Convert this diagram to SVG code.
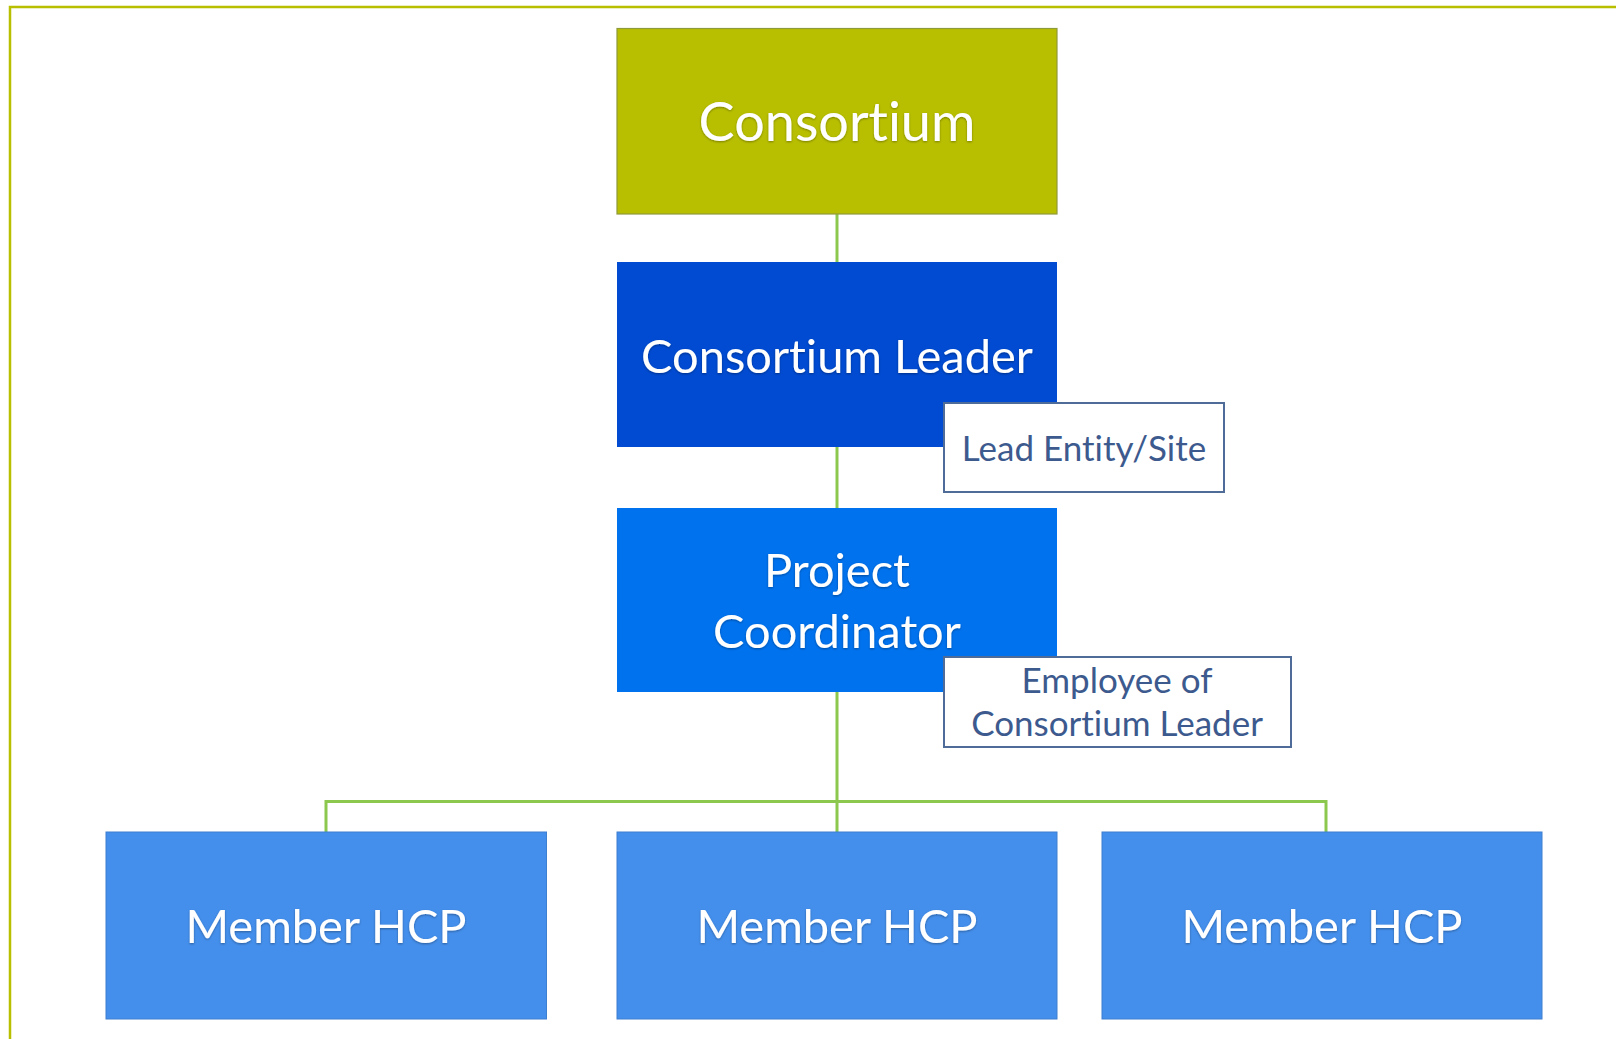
<svg xmlns="http://www.w3.org/2000/svg" width="1616" height="1039" viewBox="0 0 1616 1039">
<style>
text{font-variant-ligatures:none;font-feature-settings:"liga" 0}
.frame{stroke:#b7bf00;stroke-width:2.5;fill:none}
.conn{stroke:#8dc84e;stroke-width:3;fill:none}
.node text{font-family:Lato,"Open Sans","Liberation Sans",sans-serif;fill:#ffffff;text-anchor:middle}
.big{font-size:54px}
.mid{font-size:47px}
.lbl rect{fill:#ffffff;stroke:#4f6b98;stroke-width:2}
.lbl text{font-family:Lato,"Open Sans","Liberation Sans",sans-serif;fill:#3d5a8e;text-anchor:middle;font-size:35px}
</style>
<defs>
<filter id="glow" x="-10%" y="-30%" width="120%" height="160%">
<feDropShadow dx="0" dy="1" stdDeviation="1.2" flood-color="#000000" flood-opacity="0.35"/>
</filter>
</defs>
<rect width="1616" height="1039" fill="#ffffff"/>
<path class="frame" d="M10,1039 V7 H1616"/>
<g id="connectors">
<line class="conn" x1="837" y1="214" x2="837" y2="262"/>
<line class="conn" x1="837" y1="447" x2="837" y2="508"/>
<path class="conn" d="M837,692 V832 M326,832 V801.5 H1326 V832"/>
</g>
<g id="consortium" class="node">
<rect x="617" y="28.5" width="440" height="185.5" fill="#b8bf00" stroke="#8f9a3a" stroke-width="1.2"/>
<text class="big" x="837" y="141" filter="url(#glow)">Consortium</text>
</g>
<g id="consortium-leader" class="node">
<rect x="617" y="262" width="440" height="185" fill="#004bd2"/>
<text class="mid" x="837" y="373" filter="url(#glow)">Consortium Leader</text>
</g>
<g id="project-coordinator" class="node">
<rect x="617" y="508" width="440" height="184" fill="#0072ee"/>
<text class="mid" x="837" y="587" filter="url(#glow)">Project</text>
<text class="mid" x="837" y="648" filter="url(#glow)">Coordinator</text>
</g>
<g id="member-hcp-1" class="node">
<rect x="106" y="832" width="440.5" height="187" fill="#448fec" stroke="#3f7fcf" stroke-width="1"/>
<text class="mid" x="326" y="943" filter="url(#glow)">Member HCP</text>
</g>
<g id="member-hcp-2" class="node">
<rect x="617" y="832" width="440" height="187" fill="#448fec" stroke="#3f7fcf" stroke-width="1"/>
<text class="mid" x="837" y="943" filter="url(#glow)">Member HCP</text>
</g>
<g id="member-hcp-3" class="node">
<rect x="1102" y="832" width="440" height="187" fill="#448fec" stroke="#3f7fcf" stroke-width="1"/>
<text class="mid" x="1322" y="943" filter="url(#glow)">Member HCP</text>
</g>
<g id="label-lead" class="lbl">
<rect x="944" y="403" width="280" height="89"/>
<text x="1084" y="461">Lead Entity/Site</text>
</g>
<g id="label-employee" class="lbl">
<rect x="944" y="657" width="347" height="90"/>
<text x="1117" y="693">Employee of</text>
<text x="1117" y="736">Consortium Leader</text>
</g>
</svg>
